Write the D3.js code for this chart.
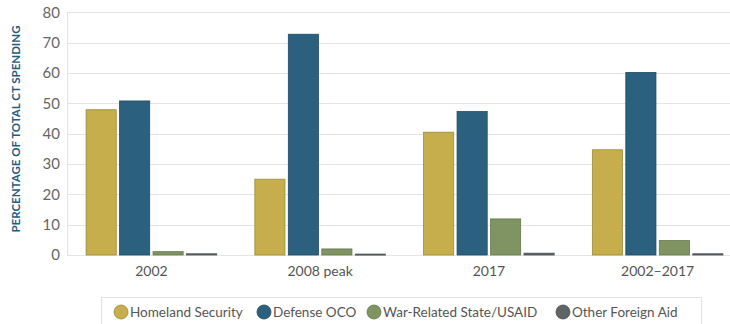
<!DOCTYPE html>
<html>
<head>
<meta charset="utf-8">
<script src="https://cdn.jsdelivr.net/npm/d3@7/dist/d3.min.js"></script>
<style>
  html, body { margin: 0; padding: 0; background: #fff; }
  svg { display: block; font-family: Lato, "Open Sans", sans-serif; }
</style>
</head>
<body>
<svg id="chart" width="730" height="324"></svg>
<script>
// Share of total counterterrorism spending by category (percent)
const categories = ["2002", "2008 peak", "2017", "2002\u20132017"];
const seriesNames = ["Homeland Security", "Defense OCO", "War-Related State/USAID", "Other Foreign Aid"];
const homelandSecurity = [47.9, 25.0, 40.5, 34.7];
const defenseOCO = [50.8, 72.8, 47.3, 60.2];
const warRelatedStateUSAID = [1.1, 2.0, 11.9, 4.8];
const otherForeignAid = [0.4, 0.3, 0.6, 0.4];
const yTicks = [0, 10, 20, 30, 40, 50, 60, 70, 80];
const colors = ["#c5ae4b", "#2b617e", "#7f9462", "#5f6466"];
const strokes = ["#9c8a3a", "#1f4a61", "#66784d", "#4a4e50"];

const series = [homelandSecurity, defenseOCO, warRelatedStateUSAID, otherForeignAid];

const svg = d3.select("#chart");
const margin = { left: 67, top: 12.4, bottom: 255 };
const plotRight = 742;

const x = d3.scaleBand().domain(categories).range([margin.left, plotRight]).paddingInner(0).paddingOuter(0);
const x1 = d3.scaleBand().domain(d3.range(series.length)).range([0, x.bandwidth()]).paddingInner(0.1).paddingOuter(0.57);
const y = d3.scaleLinear().domain([0, 80]).range([margin.bottom, margin.top]);

// horizontal gridlines
svg.append("g")
  .selectAll("line")
  .data(yTicks)
  .join("line")
  .attr("x1", margin.left).attr("x2", 730)
  .attr("y1", d => Math.round(y(d)) + 0.5).attr("y2", d => Math.round(y(d)) + 0.5)
  .attr("stroke", "#e4e4e4").attr("stroke-width", 1);

// left frame line
svg.append("line")
  .attr("x1", margin.left + 0.5).attr("x2", margin.left + 0.5)
  .attr("y1", y(80)).attr("y2", y(0))
  .attr("stroke", "#e4e4e4");

// y axis ticks
const yAxis = d3.axisLeft(y).tickValues(yTicks).tickSize(0).tickPadding(7);
const yg = svg.append("g").attr("transform", `translate(${margin.left},0)`).call(yAxis);
yg.select(".domain").remove();
yg.selectAll("text").attr("fill", "#666").style("font-size", "15px").style("font-family", "Lato, sans-serif");

// x axis labels
const xAxis = d3.axisBottom(x).tickSize(0).tickPadding(11);
const xg = svg.append("g").attr("transform", `translate(0,${margin.bottom})`).call(xAxis);
xg.select(".domain").remove();
xg.selectAll("text").attr("fill", "#555").style("font-size", "14px").style("font-family", "Lato, sans-serif");

// bars
const groups = svg.append("g")
  .selectAll("g")
  .data(categories)
  .join("g")
  .attr("transform", d => `translate(${x(d)},0)`);

groups.selectAll("rect")
  .data((c, ci) => series.map((s, si) => ({ si, v: s[ci] })))
  .join("rect")
  .attr("x", d => x1(d.si))
  .attr("width", x1.bandwidth())
  .attr("y", d => y(d.v))
  .attr("height", d => Math.max(1, y(0) - y(d.v)))
  .attr("fill", d => colors[d.si])
  .attr("stroke", d => strokes[d.si])
  .attr("stroke-width", 0.8);

// y axis title
svg.append("text")
  .attr("transform", `translate(20,129) rotate(-90)`)
  .attr("text-anchor", "middle")
  .attr("fill", "#1f5c82")
  .style("font-size", "11.5px")
  .style("font-weight", "bold")
  .style("font-family", "Lato, sans-serif")
  .text("PERCENTAGE OF TOTAL CT SPENDING");

// legend
const legend = svg.append("g");
legend.append("rect")
  .attr("x", 101.5).attr("y", 297.5)
  .attr("width", 600).attr("height", 40)
  .attr("fill", "#fff").attr("stroke", "#e2e2e2");

const legendX = [114, 257, 367, 556];
const items = legend.selectAll("g.item")
  .data(seriesNames)
  .join("g")
  .attr("class", "item")
  .attr("transform", (d, i) => `translate(${legendX[i]},312)`);
items.append("circle")
  .attr("cx", 7).attr("cy", 0).attr("r", 7)
  .attr("fill", (d, i) => colors[i])
  .attr("stroke", (d, i) => strokes[i]).attr("stroke-width", 0.8);
items.append("text")
  .attr("x", 16).attr("y", 5)
  .attr("fill", "#555")
  .style("font-size", "13.5px")
  .style("font-family", "Lato, sans-serif")
  .text(d => d);
</script>
</body>
</html>
